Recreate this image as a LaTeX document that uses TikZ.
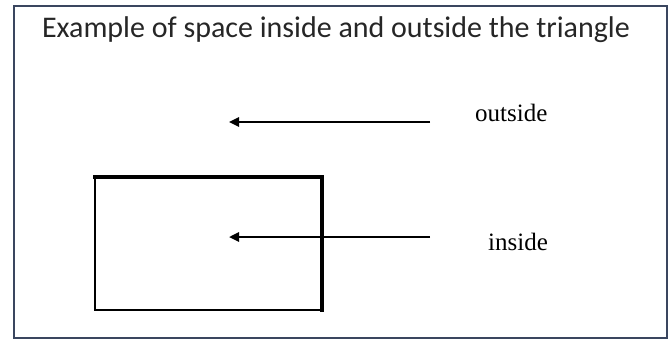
\documentclass[tikz,border=0pt]{standalone}
\usepackage{fontspec}
\setmainfont{Liberation Serif}
\newfontfamily\titlefont{Carlito}
\usetikzlibrary{arrows.meta,positioning}
\definecolor{frameblue}{RGB}{58,70,95}
\tikzset{
  frame/.style={draw=frameblue,line width=2.5pt},
  titletext/.style={font=\titlefont\fontsize{30}{36}\selectfont,text=black!85,
    anchor=base,inner sep=0pt},
  labeltext/.style={font=\fontsize{25}{30}\selectfont,anchor=base west,inner sep=0pt},
  pointer/.style={-{Triangle[length=10pt,width=9pt]},line width=2.4pt},
  thinside/.style={line width=1.8pt,line cap=rect},
  thickside/.style={line width=3.4pt,line cap=rect}
}

\begin{document}
\begin{tikzpicture}[x=1pt,y=-1pt]

  \useasboundingbox (0,0) rectangle (672,340);

  % Frame
  \draw[frame] (14,6) rectangle (667,338);
  \node[titletext] (title) at (336,37) {Example of space inside and outside the triangle};

  % Shape
  \draw[thinside] (322,310) -- (95,310) -- (95,177);
  \draw[thickside] (95,177) -- (322,177) -- (322,310);

  % Labels
  \node[labeltext] (outside) at (475,121.7) {outside};
  \node[labeltext] (inside) at (488,250) {inside};

  % Arrows
  \coordinate (outtail) at (430,122);
  \coordinate (outtip) at (229,122);
  \coordinate (intail) at (430,237);
  \coordinate (intip) at (229,237);
  \draw[pointer] (outtail) -- (outtip);
  \draw[pointer] (intail) -- (intip);

\end{tikzpicture}
\end{document}
